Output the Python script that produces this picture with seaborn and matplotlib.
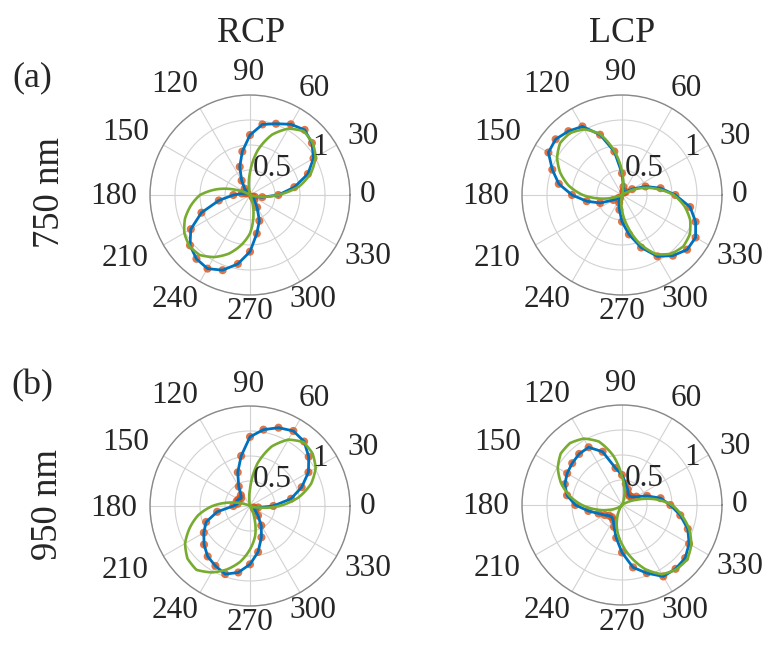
import matplotlib
matplotlib.use("Agg")
import matplotlib.pyplot as plt
import numpy as np
import seaborn as sns

# Angles of the measured points (deg) and the angular tick labels
angles_deg = list(range(0, 360, 10))
theta_ticks = list(range(0, 360, 30))
r_labels = ["0.5", "1"]
r_label_values = [0.5, 1.0]

# (a) 750 nm, RCP: measured (dots + blue line) and fit (green)
a_rcp_meas = [0.34, 0.54, 0.74, 0.88, 0.97, 1.02, 0.98, 0.91, 0.86, 0.72, 0.53, 0.36,
              0.20, 0.10, 0.05, 0.04, 0.06, 0.10, 0.20, 0.38, 0.62, 0.82, 0.94, 1.00,
              1.02, 0.96, 0.84, 0.68, 0.47, 0.33, 0.17, 0.08, 0.04, 0.04, 0.06, 0.15]
a_rcp_fit = [0.33, 0.60, 0.78, 0.91, 0.98, 1.00, 0.92, 0.77, 0.55, 0.27, 0.05, 0.00,
             0.00, 0.00, 0.00, 0.03, 0.18, 0.40, 0.60, 0.72, 0.83, 0.91, 0.95, 0.94,
             0.86, 0.75, 0.61, 0.46, 0.24, 0.05, 0.00, 0.00, 0.00, 0.00, 0.02, 0.10]

# (a) 750 nm, LCP
a_lcp_meas = [0.64, 0.47, 0.30, 0.14, 0.06, 0.04, 0.04, 0.05, 0.10, 0.26, 0.53, 0.77,
              0.95, 1.00, 1.04, 1.02, 0.89, 0.77, 0.60, 0.43, 0.28, 0.12, 0.06, 0.04,
              0.06, 0.10, 0.18, 0.32, 0.48, 0.67, 0.85, 0.95, 1.02, 1.02, 0.94, 0.83]
a_lcp_fit = [0.62, 0.42, 0.24, 0.06, 0.00, 0.00, 0.00, 0.00, 0.06, 0.28, 0.54, 0.78,
             0.91, 0.97, 0.97, 0.90, 0.79, 0.65, 0.47, 0.25, 0.04, 0.00, 0.00, 0.00,
             0.00, 0.00, 0.03, 0.18, 0.38, 0.62, 0.82, 0.92, 0.96, 0.94, 0.87, 0.76]

# (b) 950 nm, RCP
b_rcp_meas = [0.28, 0.50, 0.66, 0.81, 0.92, 1.01, 1.04, 1.00, 0.93, 0.83, 0.61, 0.43,
              0.27, 0.17, 0.14, 0.16, 0.17, 0.15, 0.20, 0.40, 0.56, 0.64, 0.72, 0.79,
              0.83, 0.87, 0.81, 0.70, 0.56, 0.40, 0.27, 0.15, 0.08, 0.05, 0.05, 0.10]
b_rcp_fit = [0.35, 0.59, 0.78, 0.91, 0.98, 1.00, 0.92, 0.76, 0.52, 0.20, 0.02, 0.00,
             0.00, 0.00, 0.00, 0.00, 0.06, 0.24, 0.45, 0.63, 0.77, 0.90, 0.98, 1.00,
             0.92, 0.81, 0.68, 0.52, 0.36, 0.15, 0.02, 0.00, 0.00, 0.00, 0.02, 0.10]

# (b) 950 nm, LCP
b_lcp_meas = [0.58, 0.47, 0.32, 0.20, 0.15, 0.14, 0.15, 0.20, 0.26, 0.36, 0.45, 0.68,
              0.80, 0.80, 0.78, 0.76, 0.73, 0.67, 0.56, 0.41, 0.30, 0.24, 0.20, 0.19,
              0.21, 0.28, 0.40, 0.57, 0.76, 0.87, 0.99, 1.00, 0.99, 0.93, 0.84, 0.71]
b_lcp_fit = [0.60, 0.40, 0.18, 0.04, 0.00, 0.00, 0.00, 0.03, 0.17, 0.34, 0.60, 0.81,
             0.92, 0.97, 0.96, 0.89, 0.78, 0.64, 0.48, 0.31, 0.17, 0.08, 0.02, 0.00,
             0.05, 0.17, 0.32, 0.47, 0.64, 0.82, 0.96, 1.01, 1.02, 0.96, 0.86, 0.73]

c_dots = "#D95319"
c_meas = "#0072BD"
c_fit = "#77AC30"

sns.set_theme(style="white")
plt.rcParams["font.family"] = ["Liberation Serif", "DejaVu Serif"]

W, H = 773, 646
fig = plt.figure(figsize=(W / 100, H / 100), dpi=100)

# panel centres in pixels and radius of the polar circle
R_PX = 100
# where each angle label sits, in px from the panel centre (x right, y down)
label_pos_px = [(118, 0), (113, -58), (64, -107), (-1, -122), (-75, -110), (-124, -63),
                (-136, 2), (-125, 64), (-75, 105), (0, 117), (63, 105), (118, 62)]

panels = [
    (250, 195, a_rcp_meas, a_rcp_fit),
    (622, 195, a_lcp_meas, a_lcp_fit),
    (250, 506, b_rcp_meas, b_rcp_fit),
    (622, 505, b_lcp_meas, b_lcp_fit),
]

th = np.deg2rad(angles_deg)
th_closed = np.append(th, th[0] + 2 * np.pi)

for cx, cy, meas, fit in panels:
    rect = [(cx - R_PX) / W, 1 - (cy + R_PX) / H, 2 * R_PX / W, 2 * R_PX / H]
    ax = fig.add_axes(rect, projection="polar")

    sns.scatterplot(x=th, y=meas, ax=ax, color=c_dots, s=34, edgecolor="none",
                    alpha=0.8, zorder=3)
    sns.lineplot(x=th_closed, y=np.append(meas, meas[0]), ax=ax, sort=False,
                 estimator=None, color=c_meas, lw=2.0, zorder=4)
    sns.lineplot(x=th_closed, y=np.append(fit, fit[0]), ax=ax, sort=False,
                 estimator=None, color=c_fit, lw=1.9, zorder=5)
    # fit curve: draw segments along the polar arc so it looks smooth
    ax.lines[-1].get_path()._interpolation_steps = 16

    ax.set_ylim(0, 1.2)
    ax.set_xlabel("")
    ax.set_ylabel("")
    ax.set_thetagrids(theta_ticks, labels=[""] * len(theta_ticks))
    ax.set_rgrids([0.3, 0.6, 0.9, 1.2], labels=["", "", "", ""])
    ax.grid(True, color="#d2d2d2", lw=0.8)
    ax.spines["polar"].set_color("#888888")
    ax.spines["polar"].set_linewidth(1.0)

    for t, (dx, dy) in zip(theta_ticks, label_pos_px):
        ax.text(0.5 + dx / (2 * R_PX), 0.5 - dy / (2 * R_PX), str(t),
                transform=ax.transAxes, ha="center", va="center",
                fontsize=22.5, color="#262626", clip_on=False)

    for txt, rv in zip(r_labels, r_label_values):
        ax.annotate(txt, xy=(np.deg2rad(30), rv), xytext=(4.3, 3.9),
                    textcoords="offset points", ha="right", va="center",
                    fontsize=22.5, color="#262626", zorder=6)

fig.text(251 / W, 1 - 33 / H, "RCP", ha="center", va="center", fontsize=26)
fig.text(622 / W, 1 - 33 / H, "LCP", ha="center", va="center", fontsize=26)
fig.text(32 / W, 1 - 78 / H, "(a)", ha="center", va="center", fontsize=26)
fig.text(32 / W, 1 - 386 / H, "(b)", ha="center", va="center", fontsize=26)
fig.text(50 / W, 1 - 192 / H, "750 nm", ha="center", va="center", rotation=90, fontsize=26.5)
fig.text(48 / W, 1 - 505 / H, "950 nm", ha="center", va="center", rotation=90, fontsize=26.5)

fig.savefig("out.png", dpi=100)
